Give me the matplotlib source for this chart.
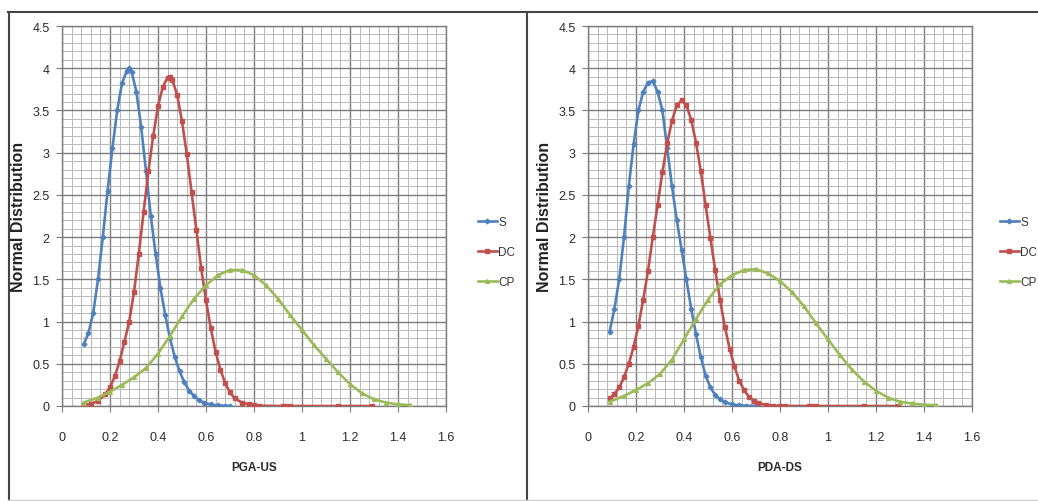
import matplotlib
matplotlib.use("Agg")
import matplotlib.pyplot as plt
from matplotlib.lines import Line2D
from matplotlib.ticker import MultipleLocator, FuncFormatter

plt.rcParams['font.family'] = ['Liberation Sans', 'DejaVu Sans']

#--------data--------
series_names = ["S", "DC", "CP"]

# left panel: PGA-US
us_s_x = [0.09, 0.11, 0.13, 0.15, 0.17, 0.19, 0.21, 0.23, 0.25, 0.27, 0.28, 0.29, 0.31, 0.33, 0.35,
          0.37, 0.39, 0.41, 0.43, 0.45, 0.47, 0.49, 0.51, 0.53, 0.55, 0.57, 0.59, 0.62, 0.65, 0.68, 0.70]
us_s_y = [0.73, 0.86, 1.1, 1.5, 2.0, 2.55, 3.05, 3.5, 3.82, 3.97, 4.0, 3.96, 3.72, 3.3, 2.78,
          2.25, 1.8, 1.4, 1.08, 0.8, 0.58, 0.41, 0.28, 0.18, 0.12, 0.07, 0.04, 0.018, 0.007, 0.003, 0.001]

us_dc_x = [0.09, 0.12, 0.15, 0.18, 0.20, 0.22, 0.24, 0.26, 0.28, 0.30, 0.32, 0.34, 0.36, 0.38, 0.40,
           0.42, 0.44, 0.45, 0.46, 0.48, 0.50, 0.52, 0.54, 0.56, 0.58, 0.60, 0.62, 0.64, 0.66, 0.68,
           0.70, 0.72, 0.75, 0.78, 0.80, 0.82, 0.92, 0.93, 0.95, 1.15, 1.29]
us_dc_y = [0.01, 0.025, 0.06, 0.14, 0.22, 0.35, 0.53, 0.76, 1.0, 1.35, 1.8, 2.3, 2.78, 3.2, 3.55,
           3.78, 3.89, 3.9, 3.86, 3.68, 3.37, 2.98, 2.53, 2.08, 1.63, 1.25, 0.92, 0.64, 0.43, 0.27,
           0.16, 0.09, 0.04, 0.018, 0.008, 0.004, 0.0, 0.0, 0.0, 0.0, 0.0]

us_cp_x = [0.09, 0.15, 0.20, 0.25, 0.30, 0.35, 0.40, 0.45, 0.50, 0.55, 0.60, 0.65, 0.70, 0.75,
           0.80, 0.85, 0.90, 0.95, 1.00, 1.05, 1.10, 1.15, 1.20, 1.25, 1.30, 1.35, 1.40, 1.45]
us_cp_y = [0.04, 0.1, 0.17, 0.25, 0.34, 0.45, 0.62, 0.83, 1.06, 1.27, 1.43, 1.55, 1.61, 1.61,
           1.55, 1.43, 1.27, 1.08, 0.9, 0.72, 0.56, 0.4, 0.26, 0.15, 0.08, 0.04, 0.02, 0.01]

# right panel: PDA-DS
ds_s_x = [0.09, 0.11, 0.13, 0.15, 0.17, 0.19, 0.21, 0.23, 0.25, 0.27, 0.29, 0.31, 0.33, 0.35, 0.37,
          0.39, 0.41, 0.43, 0.45, 0.47, 0.49, 0.51, 0.53, 0.55, 0.57, 0.60, 0.63, 0.66, 0.70]
ds_s_y = [0.88, 1.15, 1.5, 2.0, 2.6, 3.1, 3.5, 3.72, 3.83, 3.85, 3.72, 3.5, 3.05, 2.6, 2.2,
          1.85, 1.5, 1.15, 0.85, 0.58, 0.36, 0.22, 0.13, 0.08, 0.045, 0.02, 0.008, 0.003, 0.001]

ds_dc_x = [0.09, 0.11, 0.13, 0.15, 0.17, 0.19, 0.21, 0.23, 0.25, 0.27, 0.29, 0.31, 0.33, 0.35, 0.37,
           0.39, 0.41, 0.43, 0.45, 0.47, 0.49, 0.51, 0.53, 0.55, 0.57, 0.59, 0.61, 0.63, 0.65, 0.67,
           0.69, 0.71, 0.74, 0.77, 0.80, 0.82, 0.92, 0.93, 0.95, 1.15, 1.29]
ds_dc_y = [0.09, 0.14, 0.22, 0.34, 0.5, 0.7, 0.95, 1.26, 1.6, 2.0, 2.38, 2.77, 3.11, 3.38, 3.56,
           3.62, 3.56, 3.39, 3.12, 2.78, 2.38, 1.99, 1.61, 1.26, 0.94, 0.68, 0.47, 0.3, 0.19, 0.11,
           0.065, 0.035, 0.014, 0.005, 0.002, 0.001, 0.0, 0.0, 0.0, 0.0, 0.0]

ds_cp_x = [0.09, 0.15, 0.20, 0.25, 0.30, 0.35, 0.40, 0.45, 0.50, 0.55, 0.60, 0.65, 0.70, 0.75,
           0.80, 0.85, 0.90, 0.95, 1.00, 1.05, 1.10, 1.15, 1.20, 1.25, 1.30, 1.35, 1.40, 1.45]
ds_cp_y = [0.05, 0.12, 0.19, 0.27, 0.38, 0.55, 0.79, 1.03, 1.26, 1.44, 1.55, 1.61, 1.62, 1.57,
           1.48, 1.35, 1.18, 0.98, 0.79, 0.6, 0.43, 0.29, 0.18, 0.1, 0.05, 0.03, 0.015, 0.01]

x_labels = ["PGA-US", "PDA-DS"]
y_label = "Normal Distribution"

#--------styles--------
colors = ["#4F81BD", "#C0504D", "#9BBB59"]
markers = ["D", "s", "^"]
msizes = [2.4, 2.8, 2.8]

W, H = 1038, 502
fig = plt.figure(figsize=(W / 100, H / 100), dpi=100)


def fx(px):
    return px / W


def fy(py):
    return 1 - py / H


def make_panel(left_px, xdata, ydata, xlabel):
    ax = fig.add_axes([fx(left_px), fy(407), fx(384), 380 / H])
    for i in range(3):
        ax.plot(xdata[i], ydata[i], color=colors[i], lw=1.9, marker=markers[i],
                ms=msizes[i], mec=colors[i], label=series_names[i], zorder=3)
    ax.set_xlim(0, 1.6)
    ax.set_ylim(0, 4.5)
    ax.xaxis.set_major_locator(MultipleLocator(0.2))
    ax.xaxis.set_minor_locator(MultipleLocator(0.04))
    ax.yaxis.set_major_locator(MultipleLocator(0.5))
    ax.yaxis.set_minor_locator(MultipleLocator(0.1))
    fmt = FuncFormatter(lambda v, p: "%g" % round(v, 2))
    ax.xaxis.set_major_formatter(fmt)
    ax.yaxis.set_major_formatter(fmt)
    ax.grid(which="major", color="#7c7c7c", lw=1.0)
    ax.grid(which="minor", color="#b8b8b8", lw=0.7)
    ax.set_axisbelow(True)
    for s in ax.spines.values():
        s.set_color("#7c7c7c")
        s.set_linewidth(1.0)
    ax.tick_params(which="major", direction="out", length=4, color="#7c7c7c",
                   labelsize=9, labelcolor="#2a2a2a")
    ax.tick_params(axis="x", which="major", pad=14)
    ax.tick_params(axis="y", which="major", pad=5)
    ax.tick_params(which="minor", length=0)
    ax.set_xlabel(xlabel, fontsize=8.5, fontweight="bold", color="#2a2a2a", labelpad=13)
    ax.set_ylabel(y_label, fontsize=11.5, fontweight="bold", color="#222222")
    ax.yaxis.set_label_coords(-0.095, 0.5)
    return ax


ax1 = make_panel(62, [us_s_x, us_dc_x, us_cp_x], [us_s_y, us_dc_y, us_cp_y], x_labels[0])
ax2 = make_panel(588, [ds_s_x, ds_dc_x, ds_cp_x], [ds_s_y, ds_dc_y, ds_cp_y], x_labels[1])

for ax, lx in [(ax1, 473), (ax2, 995)]:
    h, l = ax.get_legend_handles_labels()
    fig.legend(h, l, loc="center left", bbox_to_anchor=(fx(lx), fy(253)), frameon=False,
               fontsize=8.5, handlelength=1.6, handletextpad=0.15, labelspacing=1.55,
               borderaxespad=0, labelcolor="#333333")

# outer frame
frame = dict(color="#444444", lw=1.5, transform=fig.transFigure)
fig.add_artist(Line2D([fx(8), 1], [fy(12.5), fy(12.5)], **frame))
fig.add_artist(Line2D([fx(8.5), fx(8.5)], [fy(12.5), 0], **frame))
fig.add_artist(Line2D([fx(527), fx(527)], [fy(12.5), 0], **frame))
fig.add_artist(Line2D([fx(8), 1], [fy(501), fy(501)], color="#cccccc", lw=1, transform=fig.transFigure))

fig.savefig("out.png", dpi=100)
